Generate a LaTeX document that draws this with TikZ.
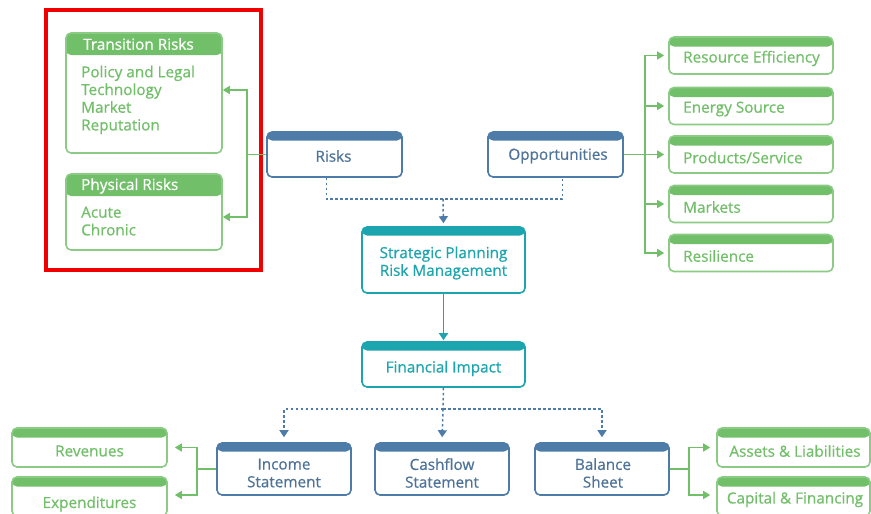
\documentclass[tikz,border=0pt]{standalone}
\usepackage{fontspec}
\setmainfont[FakeBold=0.6]{Open Sans}
\usetikzlibrary{arrows.meta,calc}
\definecolor{grn}{HTML}{72BF6A}
\definecolor{grnline}{HTML}{8CCB85}
\definecolor{blu}{HTML}{4C7CA7}
\definecolor{blutxt}{HTML}{4E7399}
\definecolor{tealc}{HTML}{1CA5AF}
\definecolor{redc}{HTML}{F00000}
\tikzset{
  box/.style={draw, rounded corners=5pt, line width=1.6pt, fill=white, inner sep=0pt},
  hdr/.style 2 args={path picture={\fill[#1] (path picture bounding box.north west) rectangle ([yshift=-#2]path picture bounding box.north east);}},
  gbox/.style={box, draw=grnline, hdr={grn}{9.5pt}},
  bbox/.style={box, draw=blu, hdr={blu}{8.5pt}},
  tbox/.style={box, draw=tealc, hdr={tealc}{8.5pt}},
  txt/.style={font=\fontsize{15.3}{17.7}\selectfont, inner sep=0pt},
  gtxt/.style={txt, text=grn, align=left},
  btxt/.style={txt, text=blutxt, align=center},
  ttxt/.style={txt, text=tealc, align=center},
  htxt/.style={txt, text=white},
  gline/.style={draw=grn, line width=1.5pt},
  garr/.style={gline, -{Triangle[width=8pt,length=7pt]}},
  dots/.style={draw=blu, line width=1.5pt, dash pattern=on 2.5pt off 2.5pt},
  darr/.style={dots, -{Triangle[width=9pt,length=7pt]}},
  tarr/.style={draw=tealc, line width=1.6pt, -{Triangle[width=9pt,length=7pt]}},
}
\begin{document}
\begin{tikzpicture}[x=1pt,y=-1pt]
\useasboundingbox (0,0) rectangle (871,514);
% left risk boxes
\node[gbox, hdr={grn}{22pt}, minimum width=156pt, minimum height=120pt] (trans) at (144,93) {};
\node[htxt, anchor=west] (transh) at (83,44) {Transition Risks};
\node[gtxt, anchor=north west] (transb) at (81,65.5) {Policy and Legal\\Technology\\Market\\Reputation};
\node[gbox, hdr={grn}{22pt}, minimum width=156pt, minimum height=76pt] (phys) at (144,212) {};
\node[htxt, anchor=west] (physh) at (81,186) {Physical Risks};
\node[gtxt, anchor=north west] (physb) at (81,206.5) {Acute\\Chronic};
\draw[redc, line width=4pt] (46,10) rectangle (261,270);
% top blue boxes
\node[bbox, minimum width=135pt, minimum height=45pt] (risks) at (334.5,154.5) {};
\node[btxt] (riskst) at (333.5,156) {Risks};
\node[bbox, minimum width=135pt, minimum height=45pt] (opp) at (555.5,154.5) {};
\node[btxt] (oppt) at (558,156) {Opportunities};
% opportunity list
\foreach \n/\y/\t in {r1/55.5/{Resource Efficiency}, r2/106/{Energy Source}, r3/154.5/{Products/Service}, r4/204/{Markets}, r5/253/{Resilience}}{
  \node[gbox, minimum width=164pt, minimum height=37pt] (\n) at (751,\y) {};
  \node[gtxt, anchor=west] (\n t) at (683,\y+3) {\t};
}
% center
\node[tbox, minimum width=163pt, minimum height=66pt] (strat) at (443.5,260) {};
\node[ttxt] (stratt) at (443.5,263) {Strategic Planning\\Risk Management};
\node[tbox, minimum width=163pt, minimum height=45pt] (fin) at (443.5,364.5) {};
\node[ttxt] (fint) at (443.5,368.5) {Financial Impact};
% statements
\node[bbox, minimum width=134pt, minimum height=52pt] (inc) at (284,469) {};
\node[btxt] (inct) at (284,473) {Income\\Statement};
\node[bbox, minimum width=134pt, minimum height=52pt] (cash) at (442,469) {};
\node[btxt] (casht) at (442,473) {Cashflow\\Statement};
\node[bbox, minimum width=134pt, minimum height=52pt] (bal) at (602,469) {};
\node[btxt] (balt) at (603,473) {Balance\\Sheet};
% bottom green
\node[gbox, minimum width=155pt, minimum height=39pt] (rev) at (89.5,447.5) {};
\node[gtxt] (revt) at (89.5,451) {Revenues};
\node[gbox, minimum width=155pt, minimum height=39pt] (exp) at (89.5,496.5) {};
\node[gtxt] (expt) at (89.5,504) {Expenditures};
\node[gbox, minimum width=153pt, minimum height=39pt] (ast) at (793.5,447.5) {};
\node[gtxt] (astt) at (795,451) {Assets \& Liabilities};
\node[gbox, minimum width=153pt, minimum height=39pt] (cap) at (793.5,496.5) {};
\node[gtxt] (capt) at (795,499.5) {Capital \& Financing};
% connectors: risks
\coordinate (rj) at (247,154.5);
\draw[gline] (risks.west) -- (rj);
\draw[garr] (rj) |- ([yshift=3pt]trans.east);
\draw[garr] (rj) |- ([yshift=-5pt]phys.east);
% opportunities
\coordinate (oj) at (645,154.5);
\draw[gline] (opp.east) -- (oj);
\foreach \n in {r1,r2,r3,r4,r5}{\draw[garr, shorten >=4pt] (oj) |- (\n.west);}
% dotted to strategic
\coordinate (mj) at (443,199);
\draw[dots] ([xshift=-8pt]risks.south) |- (mj) -| ([xshift=7pt]opp.south);
\draw[darr, shorten >=3pt] (mj) -- (strat.north);
\draw[tarr, shorten >=1pt] (strat.south) -- (fin.north);
% dotted to statements
\coordinate (fj) at (443,409);
\draw[dots] (fin.south) -- (fj);
\draw[darr, shorten >=5pt] (fj) -| (inc.north);
\draw[darr, shorten >=5pt] (fj) -- (cash.north);
\draw[darr, shorten >=5pt] (fj) -| (bal.north);
% income
\coordinate (ij) at (197,469);
\draw[gline] (inc.west) -- (ij);
\draw[garr, shorten >=7pt] (ij) |- (rev.east);
\draw[garr, shorten >=7pt] (ij) |- ([yshift=1.5pt]exp.east);
% balance
\coordinate (bj) at (689,469);
\draw[gline] (bal.east) -- (bj);
\draw[garr, shorten >=6pt] (bj) |- (ast.west);
\draw[garr, shorten >=6pt] (bj) |- ([yshift=1.5pt]cap.west);
\end{tikzpicture}
\end{document}
